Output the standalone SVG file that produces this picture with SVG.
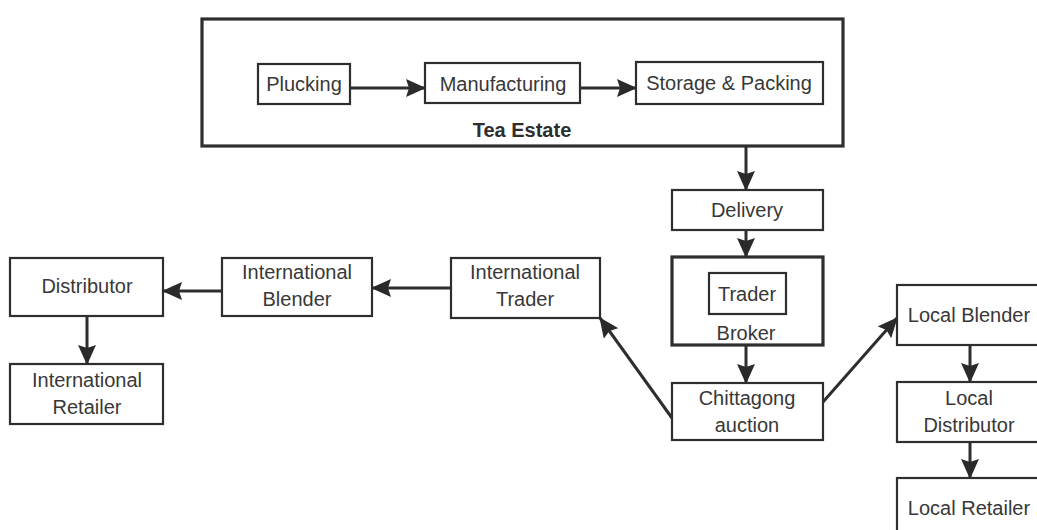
<svg xmlns="http://www.w3.org/2000/svg" width="1037" height="530" viewBox="0 0 1037 530">
  <style>
    .box { fill: #fff; stroke: #2e2e2e; stroke-width: 2.2; }
    .thick { fill: none; stroke: #2e2e2e; stroke-width: 3.2; }
    .lbl { font-family: "Liberation Sans", Arial, sans-serif; font-size: 20px; fill: #383838; text-anchor: middle; }
    .bold { font-weight: bold; font-size: 20px; fill: #2e2e2e; }
    .edge { stroke: #2e2e2e; stroke-width: 3; fill: none; marker-end: url(#arrow); }
  </style>
  <defs>
    <marker id="arrow" markerUnits="userSpaceOnUse" markerWidth="20" markerHeight="18" viewBox="0 0 20 18" refX="19" refY="9" orient="auto">
      <path d="M0,0 L20,9 L0,18 L3,9 Z" fill="#2a2a2a"/>
    </marker>
  </defs>
  <rect width="1037" height="530" fill="#fff"/>

  <!-- Tea estate frame -->
  <g id="tea-estate">
    <rect class="thick" x="202" y="19" width="641" height="127"/>
    <text class="lbl bold" x="522" y="137">Tea Estate</text>
  </g>
  <g id="plucking">
    <rect class="box" x="258" y="64" width="92" height="40"/>
    <text class="lbl" x="304" y="91">Plucking</text>
  </g>
  <g id="manufacturing">
    <rect class="box" x="425" y="63" width="155" height="40"/>
    <text class="lbl" x="503" y="91">Manufacturing</text>
  </g>
  <g id="storage">
    <rect class="box" x="636" y="62" width="187" height="42"/>
    <text class="lbl" x="729" y="90">Storage &amp; Packing</text>
  </g>

  <!-- Domestic chain -->
  <g id="delivery">
    <rect class="box" x="672" y="190" width="151" height="40"/>
    <text class="lbl" x="747" y="217">Delivery</text>
  </g>
  <g id="broker">
    <rect class="thick" x="672" y="257" width="151" height="88"/>
    <rect class="box" x="709" y="273" width="77" height="41"/>
    <text class="lbl" x="747" y="301">Trader</text>
    <text class="lbl" x="746" y="340">Broker</text>
  </g>
  <g id="auction">
    <rect class="box" x="672" y="383" width="151" height="57"/>
    <text class="lbl" x="747" y="405">Chittagong</text>
    <text class="lbl" x="747" y="432">auction</text>
  </g>
  <g id="local-blender">
    <rect class="box" x="897" y="285" width="150" height="60"/>
    <text class="lbl" x="969" y="322">Local Blender</text>
  </g>
  <g id="local-distributor">
    <rect class="box" x="897" y="382" width="150" height="60"/>
    <text class="lbl" x="969" y="405">Local</text>
    <text class="lbl" x="969" y="432">Distributor</text>
  </g>
  <g id="local-retailer">
    <rect class="box" x="897" y="478" width="150" height="60"/>
    <text class="lbl" x="969" y="515">Local Retailer</text>
  </g>

  <!-- International chain -->
  <g id="intl-trader">
    <rect class="box" x="451" y="258" width="149" height="60"/>
    <text class="lbl" x="525" y="279">International</text>
    <text class="lbl" x="525" y="306">Trader</text>
  </g>
  <g id="intl-blender">
    <rect class="box" x="222" y="258" width="150" height="58"/>
    <text class="lbl" x="297" y="279">International</text>
    <text class="lbl" x="297" y="306">Blender</text>
  </g>
  <g id="distributor">
    <rect class="box" x="10" y="258" width="153" height="58"/>
    <text class="lbl" x="87" y="293">Distributor</text>
  </g>
  <g id="intl-retailer">
    <rect class="box" x="10" y="364" width="153" height="60"/>
    <text class="lbl" x="87" y="387">International</text>
    <text class="lbl" x="87" y="414">Retailer</text>
  </g>

  <g id="connectors">
    <line class="edge" x1="350" y1="88" x2="425" y2="88"/>
    <line class="edge" x1="580" y1="88" x2="636" y2="88"/>
    <line class="edge" x1="746" y1="146" x2="746" y2="190"/>
    <line class="edge" x1="746" y1="230" x2="746" y2="257"/>
    <line class="edge" x1="746" y1="345" x2="746" y2="383"/>
    <line class="edge" x1="823" y1="402" x2="897" y2="318"/>
    <line class="edge" x1="970" y1="345" x2="970" y2="382"/>
    <line class="edge" x1="970" y1="442" x2="970" y2="478"/>
    <line class="edge" x1="672" y1="418" x2="600" y2="318"/>
    <line class="edge" x1="451" y1="288" x2="372" y2="288"/>
    <line class="edge" x1="222" y1="291" x2="163" y2="291"/>
    <line class="edge" x1="87" y1="316" x2="87" y2="364"/>
  </g>
</svg>
